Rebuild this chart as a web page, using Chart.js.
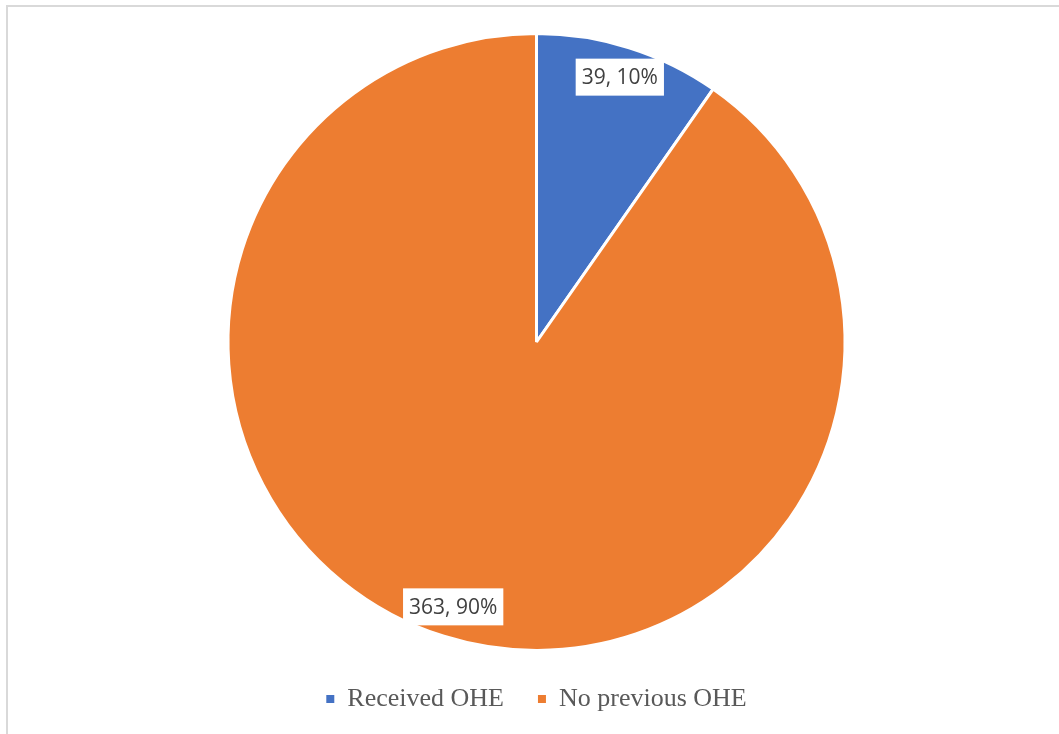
<!DOCTYPE html>
<html>
<head>
<meta charset="utf-8">
<script src="https://cdn.jsdelivr.net/npm/chart.js@4.4.1/dist/chart.umd.min.js"></script>
<style>
    html, body { margin: 0; padding: 0; background: #ffffff; overflow: hidden; }
    #frame {
        position: absolute; left: 6px; top: 5px; width: 1100px; height: 800px;
        border-top: 2px solid #d9d9d9; border-left: 2px solid #d9d9d9;
    }
    #wrap { position: absolute; left: 0; top: 0; width: 1059px; height: 734px; }
</style>
</head>
<body>
<div id="frame"></div>
<div id="wrap"><canvas id="oheChart"></canvas></div>
<script>
const oheLabels = ['Received OHE', 'No previous OHE'];
const oheCounts = [39, 363];
const oheColors = ['#4472C4', '#ED7D31'];

// value + percentage boxes drawn inside each slice
const sliceLabels = {
    id: 'sliceLabels',
    afterDatasetsDraw(chart) {
        const ctx = chart.ctx;
        const meta = chart.getDatasetMeta(0);
        const data = chart.data.datasets[0].data;
        const total = data.reduce((a, b) => a + b, 0);
        ctx.save();
        ctx.font = '21px "Open Sans", sans-serif';
        ctx.textAlign = 'center';
        ctx.textBaseline = 'middle';
        meta.data.forEach((arc, i) => {
            const p = arc.getProps(['x', 'y', 'startAngle', 'endAngle', 'outerRadius'], true);
            const mid = (p.startAngle + p.endAngle) / 2;
            const x = p.x + Math.cos(mid) * p.outerRadius * 0.9;
            const y = p.y + Math.sin(mid) * p.outerRadius * 0.9;
            const text = data[i] + ', ' + Math.round(data[i] / total * 100) + '%';
            const w = ctx.measureText(text).width + 12;
            const h = 37;
            ctx.fillStyle = '#ffffff';
            ctx.fillRect(x - w / 2, y - h / 2, w, h);
            ctx.fillStyle = '#404040';
            ctx.fillText(text, x, y + 1);
        });
        ctx.restore();
    }
};

const defaultLegendLabels = Chart.overrides.pie.plugins.legend.labels.generateLabels;

const oheChart = document.getElementById('oheChart');
new Chart(oheChart, {
    type: 'pie',
    data: {
        labels: oheLabels,
        datasets: [{
            data: oheCounts,
            backgroundColor: oheColors,
            borderColor: '#ffffff',
            borderWidth: 3
        }]
    },
    options: {
        responsive: true,
        maintainAspectRatio: false,
        animation: false,
        layout: {
            padding: { top: 32, left: 14, right: 0, bottom: 12 }
        },
        plugins: {
            tooltip: { enabled: false },
            legend: {
                position: 'bottom',
                labels: {
                    usePointStyle: true,
                    pointStyle: 'rect',
                    boxWidth: 8,
                    boxHeight: 8,
                    padding: 34,
                    color: '#595959',
                    font: { family: '"Liberation Serif", serif', size: 26 },
                    // solid squares, no white slice border around them
                    generateLabels: (chart) => defaultLegendLabels(chart).map(item => {
                        item.lineWidth = 0;
                        item.strokeStyle = item.fillStyle;
                        return item;
                    })
                }
            }
        }
    },
    plugins: [sliceLabels]
});
</script>
</body>
</html>
